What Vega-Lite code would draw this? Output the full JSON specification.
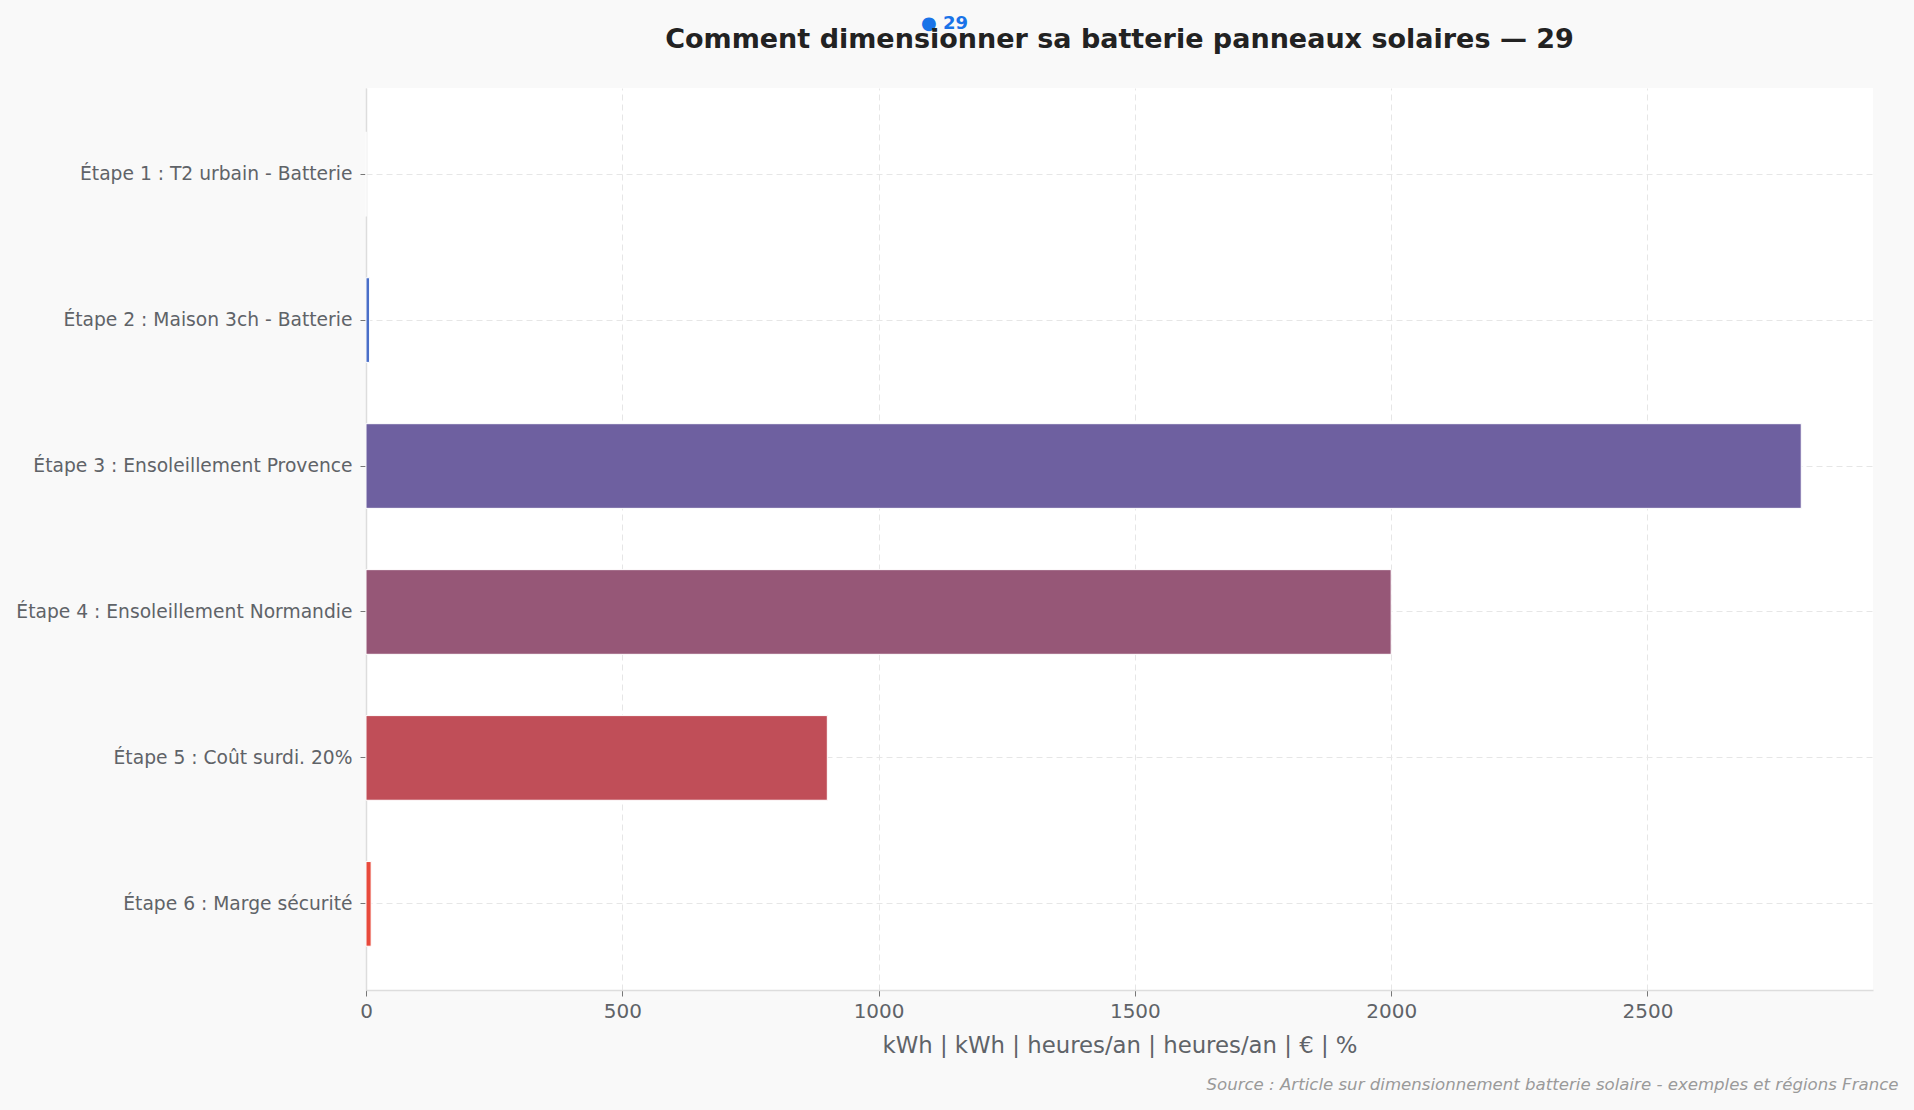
{
  "$schema": "https://vega.github.io/schema/vega-lite/v6.json",
  "autosize": {"type": "fit", "contains": "padding"},
  "width": 1914,
  "height": 1110,
  "padding": {"left": 15, "top": 14, "right": 41, "bottom": 17},
  "background": "#f9f9f9",
  "view": {"fill": "#ffffff", "stroke": null},
  "title": {
    "text": "Comment dimensionner sa batterie panneaux solaires — 29",
    "font": "DejaVu Sans",
    "fontSize": 27,
    "fontWeight": "bold",
    "color": "#222222",
    "anchor": "middle",
    "offset": -40
  },
  "data": {
    "values": [
      {"etape": "Étape 1 : T2 urbain - Batterie", "valeur": 0, "couleur": "#3d7be0"},
      {"etape": "Étape 2 : Maison 3ch - Batterie", "valeur": 7, "couleur": "#4a6fc8"},
      {"etape": "Étape 3 : Ensoleillement Provence", "valeur": 2800, "couleur": "#6e60a0"},
      {"etape": "Étape 4 : Ensoleillement Normandie", "valeur": 2000, "couleur": "#965777"},
      {"etape": "Étape 5 : Coût surdi. 20%", "valeur": 900, "couleur": "#c04e58"},
      {"etape": "Étape 6 : Marge sécurité", "valeur": 10, "couleur": "#e84a3c"}
    ]
  },
  "encoding": {
    "y": {
      "field": "etape",
      "type": "nominal",
      "sort": null,
      "scale": {"paddingInner": 0.42, "paddingOuter": 0.3},
      "axis": {
        "title": "● 29",
        "titleAngle": 0,
        "titleX": 578,
        "titleY": -65,
        "titleAlign": "center",
        "titleBaseline": "middle",
        "titleColor": "#1a73e8",
        "titleFont": "DejaVu Sans",
        "titleFontSize": 18,
        "titleFontWeight": "bold",
        "labelFont": "DejaVu Sans",
        "labelFontSize": 18.7,
        "labelColor": "#5f6368",
        "labelPadding": 8,
        "labelLimit": 600,
        "tickSize": 6,
        "tickColor": "#777777",
        "domainColor": "#dddddd",
        "domainWidth": 1.5,
        "grid": true,
        "gridDash": [6, 4],
        "gridColor": "#e6e6e6",
        "bandPosition": 0.5
      }
    }
  },
  "layer": [
    {
      "mark": {"type": "bar", "stroke": "#ffffff", "strokeWidth": 1},
      "encoding": {
        "x": {
          "field": "valeur",
          "type": "quantitative",
          "scale": {"domain": [0, 2940], "nice": false},
          "axis": {
            "orient": "bottom",
            "title": "kWh | kWh | heures/an | heures/an | € | %",
            "titleFont": "DejaVu Sans",
            "titleFontSize": 22.8,
            "titleFontWeight": "normal",
            "titleColor": "#5f6368",
            "titlePadding": 13,
            "values": [0, 500, 1000, 1500, 2000, 2500],
            "format": "d",
            "labelFlush": false,
            "labelFont": "DejaVu Sans",
            "labelFontSize": 20,
            "labelColor": "#5f6368",
            "labelPadding": 5,
            "tickSize": 6,
            "tickColor": "#777777",
            "domainColor": "#dddddd",
            "domainWidth": 1.5,
            "grid": true,
            "gridDash": [6, 4],
            "gridColor": "#e6e6e6"
          }
        },
        "color": {"field": "couleur", "type": "nominal", "scale": null}
      }
    },
    {
      "mark": {"type": "bar", "opacity": 0},
      "encoding": {
        "x": {
          "field": "valeur",
          "type": "quantitative",
          "axis": {
            "orient": "bottom",
            "labels": false,
            "ticks": false,
            "domain": false,
            "grid": false,
            "title": "Source : Article sur dimensionnement batterie solaire - exemples et régions France",
            "titleX": 1532,
            "titleY": 94,
            "titleAlign": "right",
            "titleBaseline": "middle",
            "titleFont": "DejaVu Sans",
            "titleFontSize": 16.6,
            "titleFontStyle": "italic",
            "titleFontWeight": "normal",
            "titleColor": "#9a9a9a"
          }
        }
      }
    }
  ],
  "resolve": {"axis": {"x": "independent"}}
}
